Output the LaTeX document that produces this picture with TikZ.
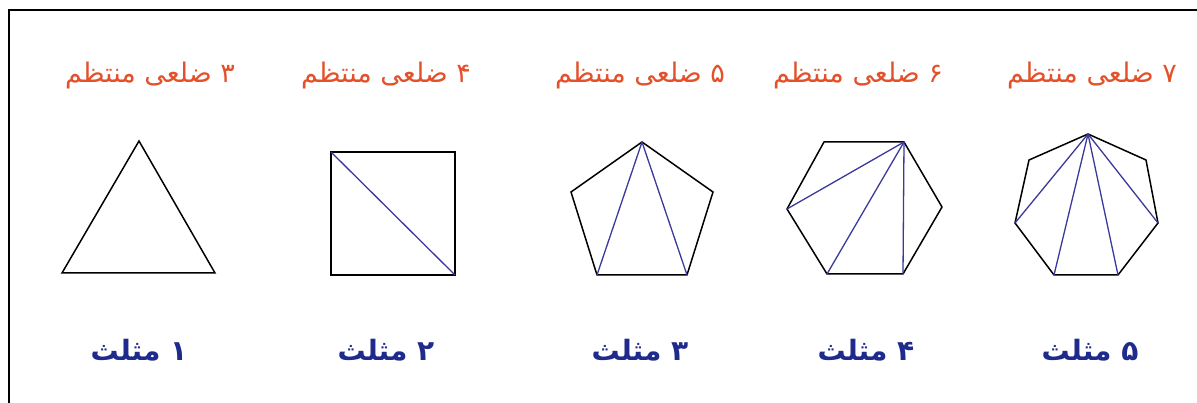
\documentclass[tikz,border=0pt]{standalone}
\usepackage{fontspec}
\newfontfamily\arabicfont[Script=Arabic]{DejaVu Sans}
\TeXXeTstate=1
\definecolor{titleorange}{HTML}{E4502A}
\definecolor{labelblue}{HTML}{1E2A8C}
\definecolor{diagblue}{HTML}{3A3A9A}
\tikzset{
  frame/.style={line width=2pt, black},
  poly/.style={line width=1.5pt, black, line join=miter},
  diag/.style={line width=1.3pt, diagblue},
  title/.style={text=titleorange, font=\arabicfont\fontsize{27}{30}\selectfont, inner sep=0pt},
  count/.style={text=labelblue, font=\arabicfont\bfseries\fontsize{28}{32}\selectfont, inner sep=0pt},
}
\begin{document}
\begin{tikzpicture}[x=1pt,y=-1pt]
\useasboundingbox (0,0) rectangle (1197,403);
\fill[white] (0,0) rectangle (1197,403);
% frame
\coordinate (fb) at (8.5,403);
\coordinate (fc) at (8.5,10.5);
\coordinate (fr) at (1197,10.5);
\draw[frame] (fb) -- (fc) -- (fr);
% titles
\node[title] (t1) at (150,75) {\beginR ۳ ضلعی منتظم\endR};
\node[title] (t2) at (386,75) {\beginR ۴ ضلعی منتظم\endR};
\node[title] (t3) at (640,75) {\beginR ۵ ضلعی منتظم\endR};
\node[title] (t4) at (858,75) {\beginR ۶ ضلعی منتظم\endR};
\node[title] (t5) at (1092,75) {\beginR ۷ ضلعی منتظم\endR};
% counts
\node[count] (c1) at (139,350) {\beginR ۱ مثلث\endR};
\node[count] (c2) at (386,350) {\beginR ۲ مثلث\endR};
\node[count] (c3) at (640,350) {\beginR ۳ مثلث\endR};
\node[count] (c4) at (866,350) {\beginR ۴ مثلث\endR};
\node[count] (c5) at (1090,350) {\beginR ۵ مثلث\endR};
% triangle
\coordinate (a1) at (139,141);
\coordinate (a2) at (62,273);
\coordinate (a3) at (215,273);
\draw[poly] (a1) -- (a2) -- (a3) -- cycle;
% square
\coordinate (b1) at (331,152);
\coordinate (b2) at (455,152);
\coordinate (b3) at (455,275);
\coordinate (b4) at (331,275);
\draw[poly] (b1) -- (b2) -- (b3) -- (b4) -- cycle;
\draw[diag] (b1) -- (b3);
% pentagon
\coordinate (p1) at (642,142);
\coordinate (p2) at (713,192);
\coordinate (p3) at (687,275);
\coordinate (p4) at (597,275);
\coordinate (p5) at (571,192);
\draw[poly] (p1) -- (p2) -- (p3) -- (p4) -- (p5) -- cycle;
\draw[diag] (p1) -- (p3);
\draw[diag] (p1) -- (p4);
% hexagon
\coordinate (h1) at (904,142);
\coordinate (h2) at (942,207);
\coordinate (h3) at (903,274);
\coordinate (h4) at (827,274);
\coordinate (h5) at (787,209);
\coordinate (h6) at (824,142);
\draw[poly] (h1) -- (h2) -- (h3) -- (h4) -- (h5) -- (h6) -- cycle;
\draw[diag] (h1) -- (h3);
\draw[diag] (h1) -- (h4);
\draw[diag] (h1) -- (h5);
% heptagon
\coordinate (s1) at (1088,134);
\coordinate (s2) at (1146,160);
\coordinate (s3) at (1158,223);
\coordinate (s4) at (1118,275);
\coordinate (s5) at (1054,275);
\coordinate (s6) at (1015,223);
\coordinate (s7) at (1029,160);
\draw[poly] (s1) -- (s2) -- (s3) -- (s4) -- (s5) -- (s6) -- (s7) -- cycle;
\draw[diag] (s1) -- (s3);
\draw[diag] (s1) -- (s4);
\draw[diag] (s1) -- (s5);
\draw[diag] (s1) -- (s6);
\end{tikzpicture}
\end{document}
